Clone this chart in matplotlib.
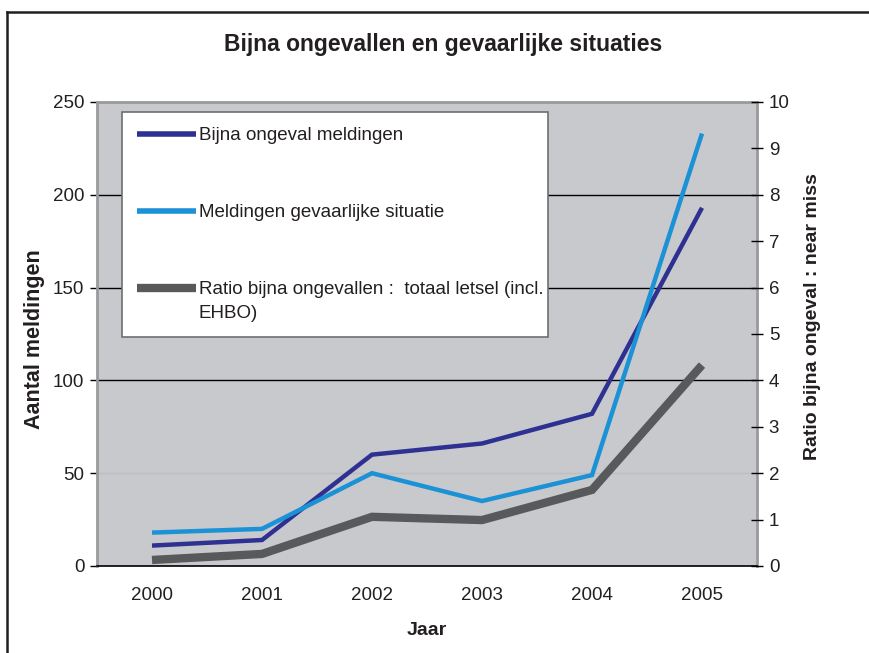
import numpy as np
import matplotlib.pyplot as plt
from matplotlib.lines import Line2D
from matplotlib.legend_handler import HandlerLine2D

plt.rcParams['font.family'] = ['Liberation Sans', 'DejaVu Sans']

# data
years = ['2000', '2001', '2002', '2003', '2004', '2005']
bijna_ongeval = [11, 14, 60, 66, 82, 193]
gevaarlijke_situatie = [18, 20, 50, 35, 49, 233]
ratio = [0.13, 0.26, 1.06, 0.99, 1.64, 4.33]

left_ticks = [0, 50, 100, 150, 200, 250]
right_ticks = list(range(0, 11))

DARK_BLUE = '#2E3192'
LIGHT_BLUE = '#1B91D6'
GRAY = '#58595B'
BG = '#C8C9CD'
TXT = '#231F20'


class FirstLineHandler(HandlerLine2D):
    """Puts the legend line next to the first text line of a two-line label."""

    def __init__(self, shift, **kw):
        super().__init__(**kw)
        self.shift = shift

    def create_artists(self, legend, orig_handle, xdescent, ydescent, width, height,
                       fontsize, trans):
        arts = super().create_artists(legend, orig_handle, xdescent, ydescent, width,
                                      height, fontsize, trans)
        for a in arts:
            a.set_ydata(np.asarray(a.get_ydata()) + self.shift)
        return arts


fig = plt.figure(figsize=(8.7, 6.53), dpi=100)
ax = fig.add_axes([97 / 870, 87 / 653, 660 / 870, 464 / 653])
ax.set_facecolor(BG)

x = list(range(len(years)))

# horizontal grid (the 50 line is barely visible in the original)
for v in left_ticks[1:-1]:
    ax.axhline(v, color='black' if v > 50 else '#BDBEC2', lw=1, zorder=1)

l1, = ax.plot(x, bijna_ongeval, color=DARK_BLUE, lw=3.2, solid_joinstyle='miter',
              solid_capstyle='butt', zorder=3)
l2, = ax.plot(x, gevaarlijke_situatie, color=LIGHT_BLUE, lw=3.2, solid_joinstyle='miter',
              solid_capstyle='butt', zorder=3)

ax.set_xlim(-0.5, len(years) - 0.5)
ax.set_ylim(0, 250)
ax.set_xticks(x)
ax.set_xticklabels(years)
ax.set_yticks(left_ticks)
ax.tick_params(axis='x', length=0, pad=15, labelsize=13.5, colors=TXT)
ax.tick_params(axis='y', direction='out', length=5, width=1, pad=4, labelsize=13.5,
               colors=TXT)
ax.tick_params(axis='y', color='black')

for side in ['left', 'top', 'right']:
    ax.spines[side].set_color('#9A9A9A')
    ax.spines[side].set_linewidth(2)
ax.spines['bottom'].set_color('black')
ax.spines['bottom'].set_linewidth(1.2)

ax.set_xlabel('Jaar', fontsize=14, fontweight='bold', labelpad=13, color=TXT)
ax.set_ylabel('Aantal meldingen', fontsize=15.5, fontweight='bold', color=TXT)
ax.yaxis.set_label_coords(-0.079, 0.49)

ax2 = ax.twinx()
ax2.patch.set_visible(False)
l3, = ax2.plot(x, ratio, color=GRAY, lw=6, solid_joinstyle='miter',
               solid_capstyle='butt', zorder=3)
ax2.set_ylim(0, 10)
ax2.set_yticks(right_ticks)
ax2.tick_params(axis='y', direction='inout', length=9, width=1, pad=4, labelsize=13.5,
                colors=TXT)
ax2.tick_params(axis='y', color='black')
for side in ['left', 'top', 'right', 'bottom']:
    ax2.spines[side].set_visible(False)
ax2.set_ylabel('Ratio bijna ongeval : near miss', fontsize=14, fontweight='bold',
               color=TXT)
ax2.yaxis.set_label_coords(1.071, 0.537)

leg = ax2.legend([l1, l2, l3],
                 ['Bijna ongeval meldingen',
                  'Meldingen gevaarlijke situatie',
                  'Ratio bijna ongevallen :  totaal letsel (incl.\nEHBO)'],
                 handler_map={l3: FirstLineHandler(shift=10)},
                 loc='upper left', bbox_to_anchor=(25 / 660, 454 / 464, 426 / 660, 0.0),
                 mode='expand', fontsize=13.5, frameon=True, fancybox=False,
                 edgecolor='#6D6E71', framealpha=1, borderpad=0.8,
                 labelspacing=3.2, handlelength=3.15, handletextpad=0.15,
                 borderaxespad=0)
leg.get_frame().set_linewidth(1.2)
for t in leg.get_texts():
    t.set_color(TXT)
    t.set_linespacing(1.5)
leg.legend_handles[0].set_linewidth(4)
leg.legend_handles[1].set_linewidth(4)
leg.legend_handles[2].set_linewidth(6)

fig.text(443 / 870, 1 - 45 / 653, 'Bijna ongevallen en gevaarlijke situaties',
         ha='center', va='center', fontsize=16.5, fontweight='bold', color=TXT)

# outer frame (cropped at right and bottom)
fig.add_artist(Line2D([7 / 870, 7 / 870], [0, 1 - 12 / 653], color=TXT, lw=1.8,
                      transform=fig.transFigure))
fig.add_artist(Line2D([7 / 870, 1], [1 - 12 / 653, 1 - 12 / 653], color=TXT, lw=1.8,
                      transform=fig.transFigure))

fig.savefig('out.png', dpi=100)
